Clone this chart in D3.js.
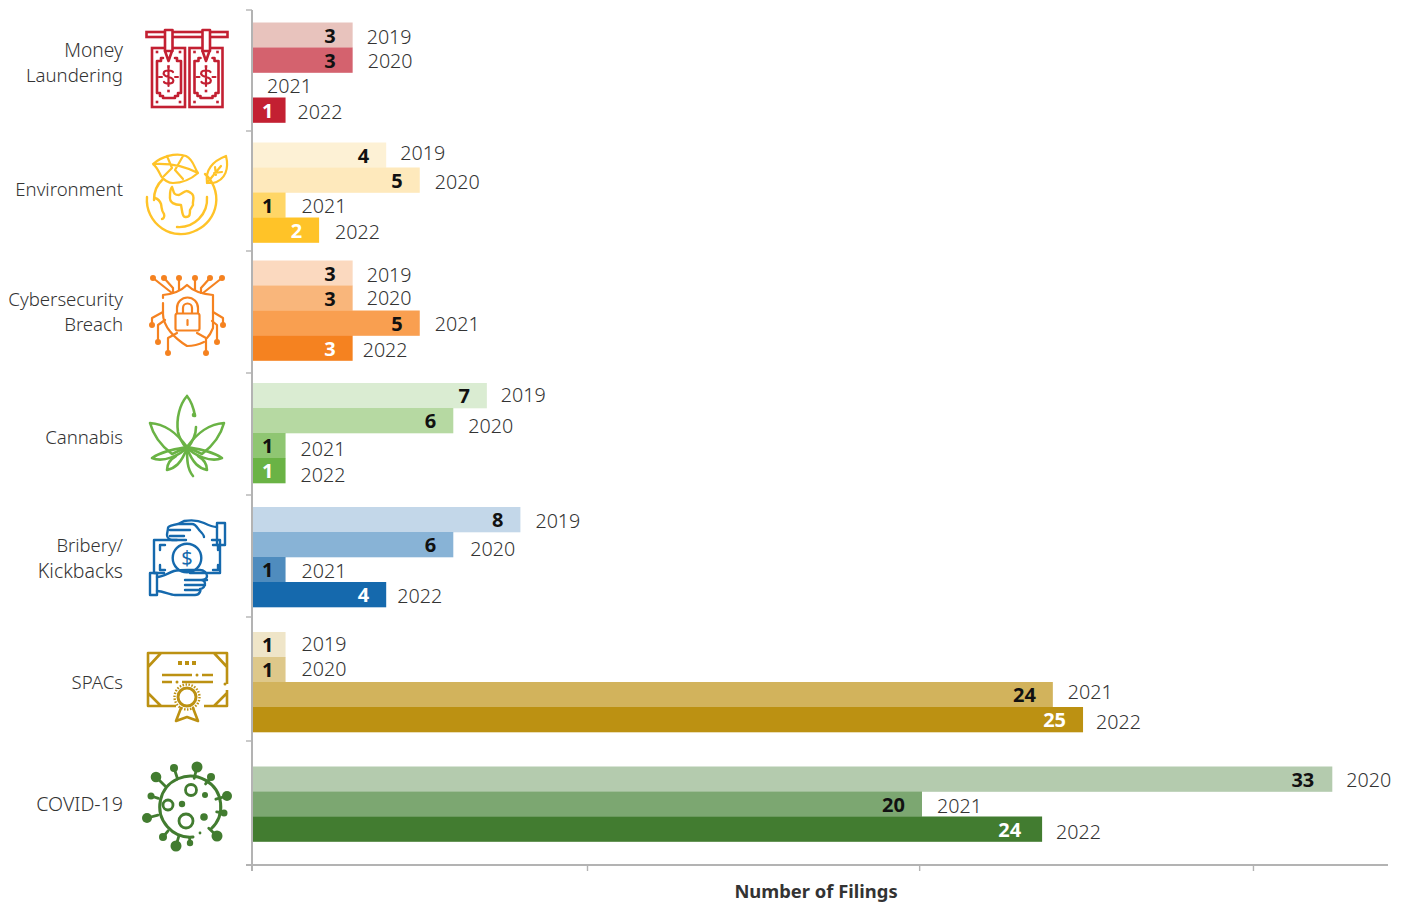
<!DOCTYPE html>
<html><head><meta charset="utf-8">
<script src="https://cdn.jsdelivr.net/npm/d3@7"></script>
<style>html,body{margin:0;padding:0;background:#fff}svg{display:block;font-family:"Noto Sans","Open Sans",sans-serif}</style>
</head><body><svg id="c" width="1406" height="903"></svg>
<script>
// ---------- data ----------
const categories = ["Money Laundering","Environment","Cybersecurity Breach","Cannabis","Bribery/ Kickbacks","SPACs","COVID-19"];
const years = [["2019","2020","2021","2022"],["2019","2020","2021","2022"],["2019","2020","2021","2022"],["2019","2020","2021","2022"],["2019","2020","2021","2022"],["2019","2020","2021","2022"],["2020","2021","2022"]];
const moneyLaundering = [3,3,0,1];
const environment = [4,5,1,2];
const cybersecurity = [3,3,5,3];
const cannabis = [7,6,1,1];
const bribery = [8,6,1,4];
const spacs = [1,1,24,25];
const covid = [33,20,24];
const seriesValues = [moneyLaundering,environment,cybersecurity,cannabis,bribery,spacs,covid];
const xTicks = [0,10,19.9,29.85];
// drawn bar length differs slightly from the printed label in the source
const drawnLength = {"6:0":32.2,"6:1":19.97,"6:2":23.55,"5:2":23.87,"5:3":24.77};
const palette = [
 ["#E8C3BD","#D4626E","#D4626E","#C32032"],
 ["#FDF1D5","#FEE9BC","#FFD666","#FFC328"],
 ["#FBD9BF","#F9B67B","#F99F50","#F58220"],
 ["#DAECD2","#B6D9A2","#8FC672","#6AB345"],
 ["#C3D7E9","#88B3D6","#4F8CBE","#1569AD"],
 ["#EFE5C8","#DEC88A","#D2B35C","#BC9112"],
 ["#B4CBAE","#7CA771","#427C30"]];
// ---------- layout ----------
const svg = d3.select("#c");
const unit = 33.55;
const x = d3.scaleLinear().domain([0,34]).range([252,252+34*unit]);
const axisRight = 1388, axisY = 865;
const groupEdges = [10,131,251,373,495,617,741,865];
const groupMid = [72.5,192.5,310.5,433,557,682,804];
const barH = 25;
const labelNudge = [ // year-label dx,dy
 [[-1,2],[0,1],[0,1],[-3,2]],
 [[-1,-2],[0,2],[1,1],[1,2]],
 [[-1,2],[-1,0],[0,1],[-5,2]],
 [[-1,-1],[0,5],[0,3],[0,4]],
 [[0,1],[2,4],[1,1],[-4,1]],
 [[1,-1],[1,-1],[0,-3],[-2,2]],
 [[-1,1],[0,2],[-1,3]]];
const valueNudge = {"6:2":-4,"6:0":-1};
const axisCol="#b3b3b3", textCol="#333";
// axes
const ax = svg.append("g").attr("stroke",axisCol).attr("stroke-width",2);
ax.append("line").attr("x1",252).attr("x2",252).attr("y1",groupEdges[0]).attr("y2",axisY+6);
ax.append("line").attr("x1",246).attr("x2",axisRight).attr("y1",axisY).attr("y2",axisY);
ax.selectAll(".yt").data(groupEdges.slice(0,-1)).join("line").attr("x1",246).attr("x2",252).attr("y1",d=>d).attr("y2",d=>d).attr("stroke-width",1.4);
ax.selectAll(".xt").data(xTicks).join("line").attr("x1",d=>x(d)).attr("x2",d=>x(d)).attr("y1",axisY).attr("y2",axisY+6).attr("stroke-width",1.4);
svg.append("text").attr("x",816).attr("y",898).attr("text-anchor","middle").attr("font-size",18.4).attr("font-weight",700).attr("fill",textCol).text("Number of Filings");
// category labels
const catLines=[["Money","Laundering"],["Environment"],["Cybersecurity","Breach"],["Cannabis"],["Bribery/","Kickbacks"],["SPACs"],["COVID-19"]];
const catSize={"Kickbacks":19.5,"COVID-19":19.6,"Bribery/":18.4,"Money":19.2};
catLines.forEach((ls,i)=>{
  const y0=[50,189,299,437,546,682,804][i];
  ls.forEach((t,j)=>svg.append("text").attr("x",123).attr("y",y0+j*25.6).attr("dy","0.35em").attr("text-anchor","end").attr("font-size",catSize[t]||18.6).attr("font-weight",300).attr("fill",textCol).text(t));
});
// bars
seriesValues.forEach((vals,g)=>{
  const band=d3.scaleBand().domain(years[g]).range([groupMid[g]-vals.length*barH/2,groupMid[g]+vals.length*barH/2]);
  const G=svg.append("g");
  vals.forEach((v,k)=>{
    const yr=years[g][k], len=drawnLength[g+":"+k]??v, y=band(yr), xe=x(len);
    if(v>0){
      G.append("rect").attr("x",x(0)+1).attr("y",y).attr("width",xe-x(0)-1).attr("height",barH+0.3).attr("fill",palette[g][k]);
      G.append("text").attr("x",xe-(v===1?12:17)+(valueNudge[g+":"+k]||0)).attr("y",y+barH/2+0.3).attr("dy","0.36em").attr("text-anchor","end").attr("font-size",20).attr("font-weight",700)
        .attr("fill",k===vals.length-1?"#fff":"#111").text(v);
    }
    const nd=labelNudge[g][k];
    G.append("text").attr("x",xe+15+nd[0]).attr("y",y+barH/2+nd[1]).attr("dy","0.36em").attr("font-size",19.7).attr("font-weight",300).attr("fill",textCol).text(yr);
  });
});
// ---------- icons ----------
function ic(col,w){return svg.append("g").attr("fill","none").attr("stroke",col).attr("stroke-width",w||2.6).attr("stroke-linejoin","round").attr("stroke-linecap","round");}
// Money laundering
(function(){const c="#C32032",g=ic(c,2.6);
 g.append("rect").attr("x",146.5).attr("y",32).attr("width",81).attr("height",5).attr("stroke-linejoin","miter");
 [0,37.5].forEach(d=>{const n=g.append("g").attr("transform",`translate(${d},0)`);
  n.append("rect").attr("x",152).attr("y",48).attr("width",33).attr("height",59).attr("stroke-linejoin","miter");
  n.append("path").attr("d","M163 58h-2v3h-4v32h3v3h3v2h12v-2h3v-3h3v-32h-4v-3h-2");
  n.append("path").attr("d","M165 51l3.5 10 3.5-10");
  n.append("rect").attr("x",165).attr("y",30).attr("width",7.500).attr("height",21).attr("fill","#fff");
  n.append("path").attr("d","M159 77h3M175 77h3").attr("stroke-width",2);
  n.append("path").attr("d","M173 72c-1-2-8-2-9 0-1 2 0 4 4.500 5 4.500 1 5.500 3 4.500 5-1 2-8 2-9 0M168.500 68v18").attr("stroke-width",2.2);
  [[157,52],[180,52],[157,102],[180,102],[168.500,66.500],[168.500,91]].forEach(p=>n.append("rect").attr("x",p[0]-1.300).attr("y",p[1]-1.300).attr("width",2.600).attr("height",2.600).attr("fill",c).attr("stroke","none"));
 });
})();
// Environment
(function(){const g=ic("#FFC328",2.4);
 g.append("path").attr("d","M147 197A34 34 0 0 0 197 230"); 
 g.append("path").attr("d","M177 227A28 28 0 0 0 207 197M163 179A28 28 0 0 0 154 200");
 g.append("path").attr("d","M197 230A34 34 0 0 0 205 174");
 g.append("path").attr("d","M172 187c2 5 1 8 7 8 6-3 6-6 12-2 5 3 1 8 2 12l-3 5c0 4 0 7-4 7-4 1-4-8-5-12-6 0-12-2-11-9 0-4 0-7 2-9M155 198c3 1 5 3 6 6 1 4 0 6 3 10 1 3-1 5-2 5");
 g.append("path").attr("d","M153 164c8-7 22-12 33-8 8 4 8 12 12 17-8 7-16 10-25 10-5 0-9-3-12-7-2-4-4-9-8-12zM153 164c16-1 32 2 45 9M167 156l5 12-8 8M183 156l-8 14 8 9").attr("stroke-width",2.200);
 g.append("path").attr("d","M207 183c-2-14 6-22 19-27 3 12 0 24-13 27-2 0-4 0-6 0zM207 183l14-17M215 167l1 8M222 172l-8 1").attr("stroke-width",2.200);
})();
// Cybersecurity
(function(){const c="#F58220",g=ic(c,2.2);
 g.append("path").attr("d","M163 298v-3c10-1 18-4 24-10 6 6 14 9 26 10v33c-2 5-4 8-6 10M204 342c-6 3-11 4-17 4-13-8-24-20-24-32v-11");
 g.append("rect").attr("x",175.500).attr("y",313.500).attr("width",24).attr("height",17).attr("rx",2);
 g.append("path").attr("d","M177 313v-5a10.500 10.500 0 0 1 21 0v5M183 313v-5a4.500 4.500 0 0 1 9 0v5");
 g.append("path").attr("d","M187.500 320v5");
 [["M153 278l19 15",153],["M164 278l9 10v5",164],["M179 278v12",179],["M195 278v12",195],["M210 278l-9 10v5",210],["M222 278l-19 15",222]].forEach(s=>{
   g.append("path").attr("d",s[0]);
   g.append("circle").attr("cx",s[1]).attr("cy",278).attr("r",1.900).attr("fill",c);});
 [[152,325,"M152 325v-7l11-6"],[223,325,"M223 325v-7l-10-6"],[158,342,"M158 342v-17l7-5"],[217,342,"M217 342v-17l-5-4"],[168,353,"M168 353v-15l9-5"],[206,353,"M206 353v-15l-9-5"]].forEach(s=>{
   g.append("path").attr("d",s[2]);
   g.append("circle").attr("cx",s[0]).attr("cy",s[1]).attr("r",1.900).attr("fill",c);});
})();
// Cannabis
(function(){const c="#6AB345",g=ic(c,2.600);
 g.append("path").attr("d","M187 396c-7 8-11 22-9 36 1 6 5 12 9 17 4-5 9-12 9-22M187 396c4 5 7 14 8 20");
 g.append("path").attr("d","M187 447C176 432 165 424 150 423C154 438 164 448 172 454z");
 g.append("path").attr("d","M187 447C198 432 209 424 224 423C220 438 210 448 202 454z");
 g.append("path").attr("d","M152 458c10-7 24-9 35-11c-6 8-24 16-35 11z");
 g.append("path").attr("d","M222 458c-10-7-24-9-35-11c6 8 24 16 35 11z");
 g.append("path").attr("d","M167 470c0-6 2-10 9-14M207 470c0-6-2-10-9-14M167 470c8-2 14-6 20-22M207 470c-8-2-14-6-20-22");
 g.append("path").attr("d","M187 447c0 12 0 22 6 29");
 g.append("circle").attr("cx",194).attr("cy",415).attr("r",1).attr("fill",c);
})();
// Bribery
(function(){const c="#1569AD",g=ic(c,2.400);
 g.append("path").attr("d","M177 540h-23v33h10M190 573h30v-33h-8");
 g.append("path").attr("d","M160 550v-5h5M213 545h5v5M160 565v5h5M213 570h5v-5");
 g.append("circle").attr("cx",187).attr("cy",558).attr("r",14.300);
 g.append("text").attr("x",187).attr("y",565).attr("text-anchor","middle").attr("font-size",20).attr("font-weight",400).attr("fill",c).attr("stroke","none").text("$");
 g.append("path").attr("d","M217 527c-5 0-9-2-13-4-6-3-14-3-20-2l-6 3c-5 1-10 2-10 4 0 2-1 5-1 7 0 3 3 5 5 5h14M178 524h14c4 0 6 5 8 7 2 2 4 4 4 6M170 530h20M170 536h14");
 g.append("path").attr("d","M217 523h8v22h-8z");
 g.append("path").attr("d","M157 577c6 0 11-4 17-6 5-1 12-1 14-1h12c4 0 7 3 7 6 0 3-2 4-6 4 3 0 4 2 4 4 0 2-2 5-5 5 1 1 0 6-5 6h-20c-5 0-12-4-18-4M185 580h22M185 585h20M185 590h14");
 g.append("path").attr("d","M150 573h7v22h-7z");
})();
// SPACs
(function(){const c="#BC9112",g=ic(c,2.600);
 g.append("path").attr("d","M176 706h-28v-53h79v31M227 690v16h-23M148 667l13-14M227 667l-13-14M148 693l13 13M227 693l-13 13").attr("stroke-linecap","butt");
 g.append("path").attr("d","M162 675h30M202 675h11M162 682h10M182 682h31").attr("stroke-linecap","butt");
 [197].forEach(v=>g.append("circle").attr("cx",v).attr("cy",675).attr("r",1.500).attr("fill",c).attr("stroke","none"));
 [177,225].forEach((v,i)=>g.append("circle").attr("cx",v).attr("cy",682+i*2).attr("r",1.500).attr("fill",c).attr("stroke","none"));
 [178,185,192].forEach(v=>g.append("rect").attr("x",v).attr("y",661).attr("width",4).attr("height",4).attr("fill",c).attr("stroke","none"));
 g.append("circle").attr("cx",187).attr("cy",697).attr("r",9).attr("fill","#fff").attr("stroke-width",3);
 g.append("circle").attr("cx",187).attr("cy",697).attr("r",12.500).attr("stroke-dasharray","1.500 1.500").attr("stroke-width",2.400).attr("stroke-linecap","butt");
 g.append("path").attr("d","M181 708l-5 13l11-4l11 4l-5-13");
})();
// COVID
(function(){const c="#427C30",cx=187,cy=807.500,g=ic(c,2.800);
 g.append("path").attr("d","M211 829A30.500 30.500 0 1 0 193 837").attr("stroke-width",3);
 const sp=[[156,777,5.300],[174,768,4],[197,767,5.500],[211,777,4],[227,796,5],[224,813,3.500],[217,836,5.500],[190,843,3.200],[176,846,5.500],[163,837,4],[147,818,5],[151,796,3.500]];
 sp.forEach(s=>{const a=Math.atan2(s[1]-cy,s[0]-cx);
  g.append("line").attr("x1",cx+30*Math.cos(a)).attr("y1",cy+30*Math.sin(a)).attr("x2",s[0]).attr("y2",s[1]);
  g.append("circle").attr("cx",s[0]).attr("cy",s[1]).attr("r",s[2]).attr("fill",c).attr("stroke","none");});
 [[191,790,5.500],[168,805,5],[186,821,7]].forEach(s=>g.append("circle").attr("cx",s[0]).attr("cy",s[1]).attr("r",s[2]));
 [[205,795,3],[182,804,3.200],[204,817,3.800],[200,833,1.400]].forEach(s=>g.append("circle").attr("cx",s[0]).attr("cy",s[1]).attr("r",s[2]).attr("fill",c).attr("stroke","none"));
})();
</script></body></html>
